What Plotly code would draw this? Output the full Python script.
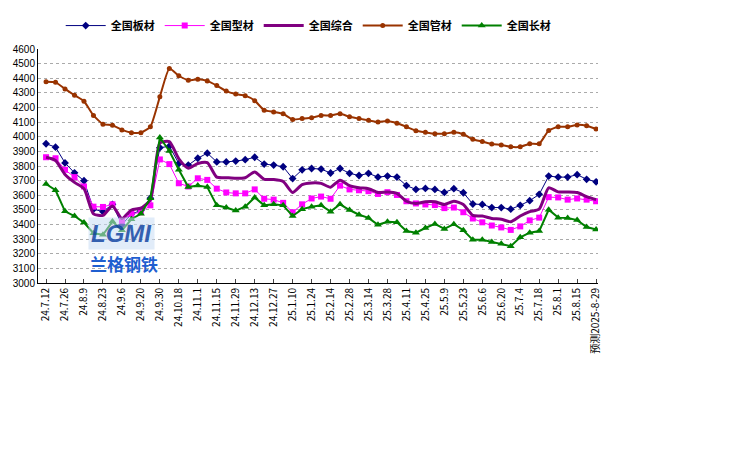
import plotly.graph_objects as go

labels = ["24.7.12", "24.7.26", "24.8.9", "24.8.23", "24.9.6", "24.9.20", "24.9.30", "24.10.18",
          "24.11.1", "24.11.15", "24.11.29", "24.12.13", "24.12.27", "25.1.10", "25.1.24", "25.2.14",
          "25.2.28", "25.3.14", "25.3.28", "25.4.11", "25.4.25", "25.5.9", "25.5.23", "25.6.6",
          "25.6.20", "25.7.4", "25.7.18", "25.8.1", "25.8.15", "预测2025-8-29"]

banc = [3952, 3929, 3821, 3753, 3699, 3505, 3488, 3538, 3398, 3473, 3495, 3580, 3925, 3935, 3817,
        3806, 3853, 3888, 3828, 3828, 3834, 3843, 3860, 3813, 3806, 3795, 3714, 3774, 3783, 3779,
        3752, 3783, 3750, 3735, 3750, 3724, 3731, 3724, 3666, 3640, 3647, 3640, 3619, 3645, 3617,
        3540, 3537, 3516, 3516, 3505, 3531, 3563, 3606, 3731, 3724, 3724, 3741, 3709, 3692]
xingc = [3860, 3853, 3774, 3724, 3660, 3522, 3520, 3538, 3426, 3473, 3484, 3531, 3845, 3813, 3682,
         3660, 3716, 3705, 3645, 3619, 3613, 3613, 3640, 3576, 3570, 3548, 3484, 3538, 3578, 3591,
         3576, 3666, 3640, 3634, 3628, 3609, 3621, 3602, 3559, 3544, 3537, 3533, 3512, 3516, 3484,
         3441, 3415, 3393, 3380, 3363, 3387, 3428, 3447, 3587, 3585, 3570, 3578, 3570, 3559]
zonghe = [3860, 3838, 3742, 3688, 3645, 3473, 3462, 3527, 3441, 3499, 3512, 3570, 3957, 3967, 3849,
          3785, 3817, 3823, 3724, 3720, 3716, 3720, 3759, 3709, 3707, 3694, 3619, 3673, 3684, 3681,
          3655, 3703, 3666, 3651, 3645, 3619, 3623, 3613, 3559, 3544, 3555, 3555, 3537, 3559, 3537,
          3462, 3458, 3441, 3436, 3419, 3458, 3488, 3505, 3651, 3623, 3623, 3619, 3591, 3570]
guanc = [4376, 4372, 4327, 4284, 4243, 4146, 4086, 4079, 4047, 4028, 4028, 4068, 4273, 4466, 4417,
         4387, 4393, 4382, 4350, 4312, 4292, 4281, 4247, 4182, 4170, 4157, 4118, 4124, 4130, 4146,
         4146, 4157, 4137, 4124, 4112, 4101, 4107, 4092, 4068, 4041, 4030, 4021, 4021, 4030, 4017,
         3983, 3967, 3950, 3944, 3931, 3931, 3952, 3952, 4043, 4068, 4068, 4081, 4075, 4053]
changc = [3677, 3634, 3490, 3458, 3413, 3340, 3330, 3420, 3360, 3436, 3473, 3580, 3995, 3903, 3774,
          3656, 3666, 3656, 3531, 3516, 3495, 3522, 3585, 3531, 3538, 3531, 3458, 3505, 3522, 3531,
          3488, 3538, 3499, 3467, 3445, 3398, 3419, 3415, 3355, 3344, 3376, 3404, 3370, 3402, 3361,
          3295, 3295, 3280, 3269, 3252, 3312, 3344, 3355, 3501, 3447, 3445, 3430, 3383, 3366]

x = list(range(len(banc)))
fig = go.Figure()
fig.add_trace(go.Scatter(x=x, y=banc, name="全国板材", mode="lines+markers",
                         line=dict(color="#000080", width=1), marker=dict(symbol="diamond", size=6)))
fig.add_trace(go.Scatter(x=x, y=xingc, name="全国型材", mode="lines+markers",
                         line=dict(color="#FF00FF", width=1), marker=dict(symbol="square", size=6)))
fig.add_trace(go.Scatter(x=x, y=zonghe, name="全国综合", mode="lines",
                         line=dict(color="#800080", width=3, shape="spline", smoothing=0.6)))
fig.add_trace(go.Scatter(x=x, y=guanc, name="全国管材", mode="lines+markers",
                         line=dict(color="#993300", width=2, shape="spline", smoothing=0.5),
                         marker=dict(symbol="circle", size=5)))
fig.add_trace(go.Scatter(x=x, y=changc, name="全国长材", mode="lines+markers",
                         line=dict(color="#008000", width=2), marker=dict(symbol="triangle-up", size=7)))

# watermark logo
fig.add_annotation(x=0.09, y=0.14, xref="paper", yref="paper", text="<b><i>LGMI</i></b>",
                   showarrow=False, font=dict(size=24, color="#1f4fa8", family="Liberation Sans"),
                   bgcolor="rgba(200,220,245,0.6)", borderpad=2, opacity=0.9)
fig.add_annotation(x=0.09, y=0.02, xref="paper", yref="paper", text="<b>兰格钢铁</b>",
                   showarrow=False, font=dict(size=17, color="#1f5fd0", family="Noto Sans CJK SC"))

fig.update_layout(
    width=753, height=475, plot_bgcolor="white", paper_bgcolor="white",
    margin=dict(l=30, r=163, t=41, b=200, autoexpand=False),
    font=dict(family="Liberation Sans", size=10, color="black"),
    legend=dict(orientation="h", x=0.07, y=0.963, xref="container", yref="container",
                xanchor="left", yanchor="middle",
                font=dict(family="Noto Sans CJK SC", size=11, weight="bold"), itemwidth=40),
    showlegend=True,
)
fig.update_xaxes(range=[-0.85, 58.2], tickmode="array", tickvals=list(range(0, 59, 2)),
                 ticktext=labels, tickangle=-90, showline=True, linecolor="black",
                 ticks="inside", ticklen=4, showgrid=False, zeroline=False,
                 tickfont=dict(size=10, family="Noto Sans CJK SC"))
fig.update_yaxes(range=[3000, 4600], dtick=100, showline=True, linecolor="black",
                 showgrid=True, gridcolor="#aaaaaa", griddash="dot", zeroline=False,
                 tickfont=dict(size=10, family="Liberation Sans"))

fig.write_html("out.html")
